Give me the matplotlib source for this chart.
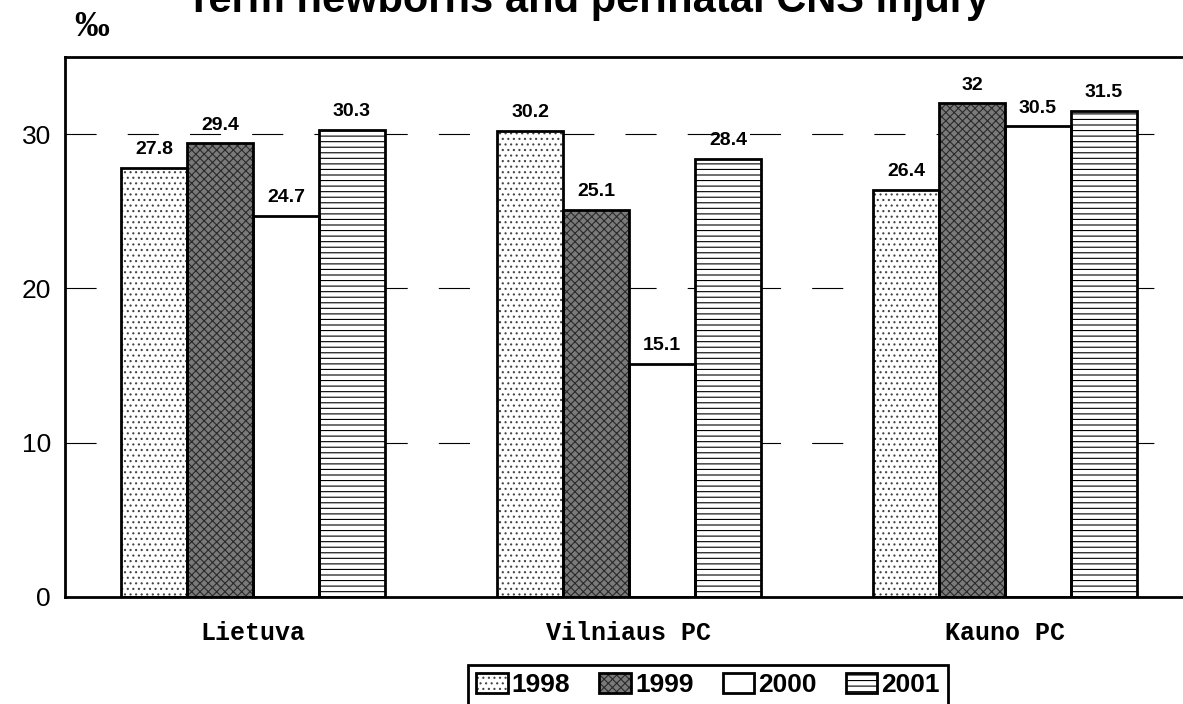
import matplotlib.pyplot as plt
import numpy as np

plt.rcParams['hatch.linewidth'] = 0.8

# data
groups = ["Lietuva", "Vilniaus PC", "Kauno PC"]
years = ["1998", "1999", "2000", "2001"]
v1998 = [27.8, 30.2, 26.4]
v1999 = [29.4, 25.1, 32]
v2000 = [24.7, 15.1, 30.5]
v2001 = [30.3, 28.4, 31.5]
series = [v1998, v1999, v2000, v2001]

# fill, hatch colour, hatch pattern for each year
styles = [
    ("white", "#444444", "..."),
    ("#7a7a7a", "#2a2a2a", "xxxx"),
    ("white", "white", None),
    ("white", "black", "---"),
]

fig = plt.figure(figsize=(11.83, 7.04), dpi=100)
ax = fig.add_axes([65 / 1183, 107 / 704, 1128 / 1183, 540 / 704])

x = np.arange(len(groups))
w = 0.1755
handles = []
for i, vals in enumerate(series):
    face, hcol, hatch = styles[i]
    pos = x + (i - 1.5) * w
    b1 = ax.bar(pos, vals, w, color=face, edgecolor=hcol, hatch=hatch, linewidth=0, zorder=2)
    b2 = ax.bar(pos, vals, w, fill=False, edgecolor="black", linewidth=2, zorder=3)
    handles.append((b1, b2))
    for px, v in zip(pos, vals):
        ax.annotate(f"{v:g}", (px, v), xytext=(0, 7), textcoords="offset points",
                    ha="center", va="bottom", fontsize=14, fontweight="bold",
                    family="Liberation Sans")

ax.set_xlim(-0.5, 2.5)
ax.set_ylim(0, 35)
ax.set_yticks([0, 10, 20, 30])
ax.set_yticklabels(["0", "10", "20", "30"], family="Liberation Sans", fontsize=19)
ax.set_xticks(x)
ax.set_xticklabels(groups, family="Liberation Mono", fontweight="bold", fontsize=18)
ax.tick_params(axis="both", length=0)
ax.tick_params(axis="x", pad=17)
ax.tick_params(axis="y", pad=10)
ax.yaxis.grid(True, color="black", linewidth=0.8, linestyle=(0, (28, 28)))
ax.set_axisbelow(True)
for s in ["left", "bottom", "top"]:
    ax.spines[s].set_linewidth(2)
ax.spines["right"].set_visible(False)

fig.text(0.497, 1 - 12 / 704, "Term newborns and perinatal CNS injury", ha="center",
         va="baseline", fontsize=30, fontweight="bold", family="Liberation Sans")
fig.text(92 / 1183, 1 - 27 / 704, "‰", ha="center", va="center", fontsize=25,
         fontweight="bold", family="Liberation Serif")

leg = fig.legend(handles, years, loc="upper center", bbox_to_anchor=(708 / 1183, 1 - 652 / 704),
                 ncol=4, frameon=True, fancybox=False, edgecolor="black", framealpha=1,
                 prop={"family": "Liberation Sans", "weight": "bold", "size": 19},
                 handlelength=1.2, handleheight=0.8, handletextpad=0.15, columnspacing=1.1,
                 borderpad=0.3)
leg.get_frame().set_linewidth(2)

fig.savefig("out.png", dpi=100)
